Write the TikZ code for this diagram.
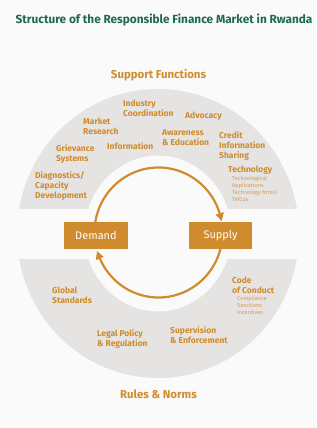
\documentclass[tikz,border=0pt]{standalone}
\usepackage{fontspec}
\setmainfont{Fira Sans}
\usetikzlibrary{arrows.meta,bending,calc}
\definecolor{bgc}{HTML}{FAFAFA}
\definecolor{bandc}{HTML}{E6E4E2}
\definecolor{orc}{HTML}{CF8B2D}
\definecolor{subc}{HTML}{D49A52}
\definecolor{titlec}{HTML}{1F6A4E}
\tikzset{
  lab/.style={anchor=west, align=left, inner sep=0pt, text=orc, font=\bfseries\fontsize{8.5}{10}\selectfont},
  sublab/.style={anchor=west, align=left, inner sep=0pt, text=subc, font=\fontsize{5.6}{7}\selectfont},
  head/.style={inner sep=0pt, text=orc, font=\bfseries\fontsize{11.4}{13}\selectfont},
  box/.style={fill=orc, text=white, minimum width=64pt, minimum height=27pt, inner sep=0pt, font=\fontsize{11}{13}\selectfont},
  flow/.style={draw=orc, line width=2.2pt, -{Triangle[length=8pt,width=8pt,bend]}},
}
\begin{document}
\begin{tikzpicture}[x=1pt,y=-1pt]
\useasboundingbox (0,0) rectangle (316,428);
\fill[bgc] (0,0) rectangle (316,428);
% bands
\coordinate (bc) at (158,233.5);
\begin{scope}
\clip (0,0) rectangle (316,208);
\fill[bandc, even odd rule] (bc) ellipse [x radius=141, y radius=144.5] (bc) ellipse [x radius=73.5, y radius=78];
\end{scope}
\begin{scope}
\clip (0,259) rectangle (316,428);
\fill[bandc, even odd rule] (bc) ellipse [x radius=141, y radius=144.5] (bc) ellipse [x radius=73.5, y radius=78];
\end{scope}
% title
\node[inner sep=0pt, text=titlec, font=\bfseries\fontsize{11.8}{13}\selectfont] (title) at (164,20) {Structure of the Responsible Finance Market in Rwanda};
\node[head] (sf) at (158.5,75) {Support Functions};
\node[head] (rn) at (158.5,394) {Rules \& Norms};
% boxes
\node[box] (dem) at (96,235.5) {Demand};
\node[box, minimum width=63pt] (sup) at (220.5,235.5) {Supply};
% flows
\coordinate (oc) at (158.5,232.5);
\draw[flow] ($(oc)+(189:64 and 65)$) arc[start angle=189, end angle=350, x radius=64, y radius=65];
\draw[flow] ($(oc)+(14.7:64 and 65)$) arc[start angle=14.7, end angle=163.5, x radius=64, y radius=65];
% upper labels
\node[lab] (ic) at (123,108) {Industry\\Coordination};
\node[lab] (mr) at (83,126) {Market\\Research};
\node[lab] (adv) at (185,116) {Advocacy};
\node[lab] (gs) at (56,154) {Grievance\\Systems};
\node[lab] (inf) at (107,146) {Information};
\node[lab] (ae) at (162,138) {Awareness\\\& Education};
\node[lab] (cis) at (219,146) {Credit\\Information\\Sharing};
\node[lab] (tech) at (228,170) {Technology};
\node[sublab] (techs) at (232,188.5) {Technological\\Applications\\Technology firms/\\TelCos};
\node[lab] (dcd) at (35,186) {Diagnostics/\\Capacity\\Development};
% lower labels
\node[lab] (gst) at (52,295) {Global\\Standards};
\node[lab] (coc) at (232,285) {Code\\of Conduct};
\node[sublab] (cocs) at (237,305) {Compliance\\Sanctions\\Incentives};
\node[lab] (lpr) at (97,339) {Legal Policy\\\& Regulation};
\node[lab] (se) at (170,335) {Supervision\\\& Enforcement};
\end{tikzpicture}
\end{document}
